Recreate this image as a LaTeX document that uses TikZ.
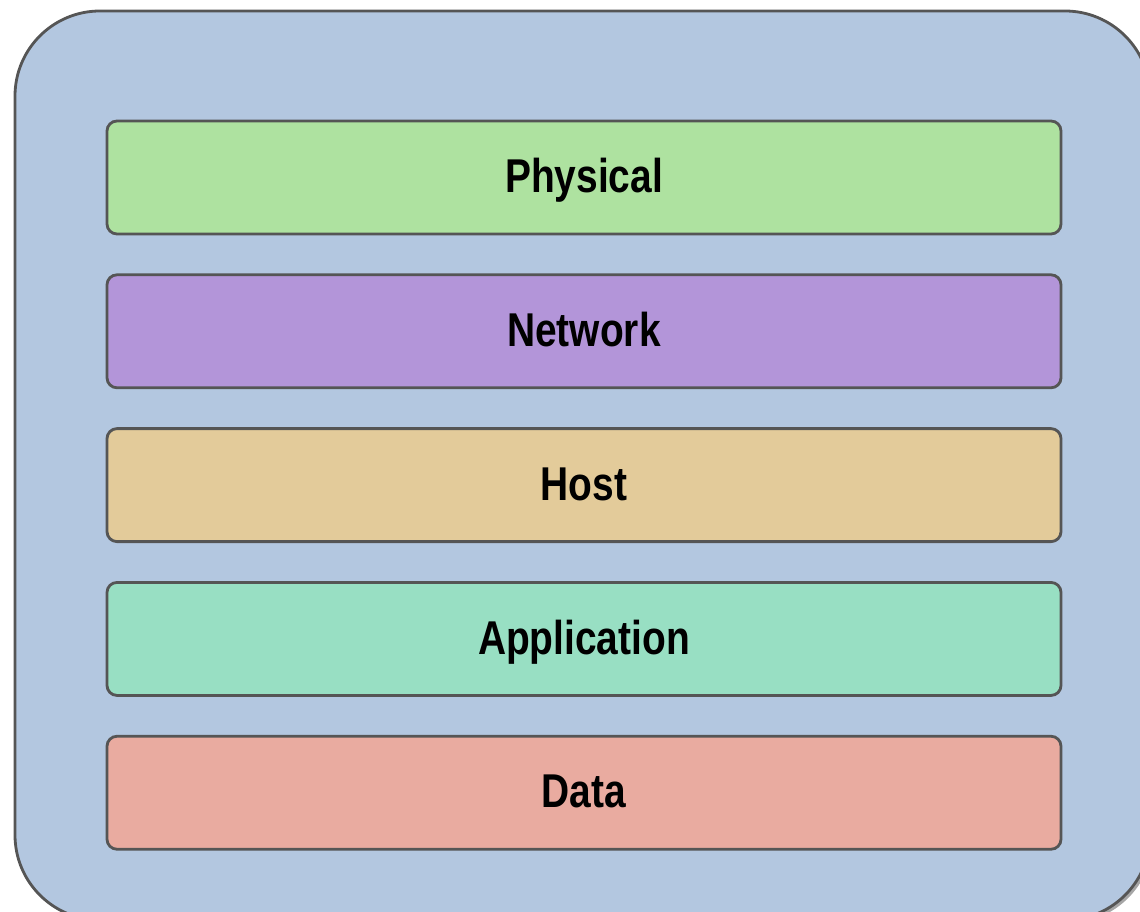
\documentclass[tikz,border=0pt]{standalone}
\usepackage{fontspec}
\newfontfamily\layerfont{Liberation Sans}[FakeStretch=0.82]
\usepackage{tikz}
\usetikzlibrary{shapes,positioning,shadows}

\definecolor{stackblue}{HTML}{B3C7E0}
\definecolor{edgegray}{HTML}{555555}
\definecolor{physgreen}{HTML}{AEE2A0}
\definecolor{netpurple}{HTML}{B395D9}
\definecolor{hosttan}{HTML}{E3CB9A}
\definecolor{appteal}{HTML}{98DFC3}
\definecolor{datasalmon}{HTML}{E9ABA0}

\begin{document}
\begin{tikzpicture}[
    layer/.style={rectangle, draw=edgegray, line width=0.8pt, rounded corners=0.1cm,
        minimum width=9.54cm, minimum height=1.13cm, align=center,
        text height=0.86em, text depth=0pt,
        font=\layerfont\fontsize{13.5}{16}\selectfont\bfseries},
    node distance=0.38cm
]

    \useasboundingbox (0,0) rectangle (11.4,9.12);
    \clip (0,0) rectangle (11.4,9.12);

    %-----Frame-----
    % Outer Stack
    \draw [draw=edgegray, line width=0.8pt, fill=stackblue, rounded corners=0.85cm,
        drop shadow={shadow xshift=0.03cm, shadow yshift=-0.03cm, fill=black!35, opacity=1}]
        (0.15,9.01) rectangle (11.50,-0.08);

    %-----Layers-----
    % Physical Layer
    \node [layer, fill=physgreen] at (5.84,7.345) (phys) {Physical};

    % Network Layer
    \node [layer, fill=netpurple, below=of phys] (net) {Network};

    % Host Layer
    \node [layer, fill=hosttan, below=of net] (host) {Host};

    % Application Layer
    \node [layer, fill=appteal, below=of host] (app) {Application};

    % Data Layer
    \node [layer, fill=datasalmon, below=of app] (data) {Data};

\end{tikzpicture}
\end{document}
